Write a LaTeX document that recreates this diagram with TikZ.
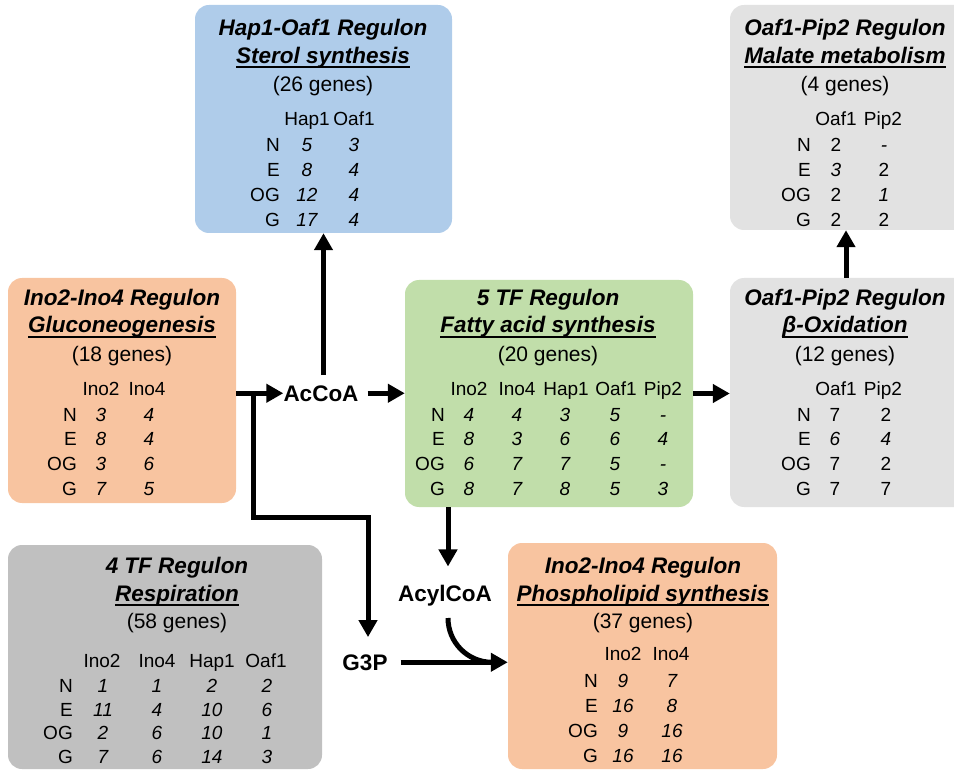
\documentclass[tikz,border=0pt]{standalone}
\usepackage{fontspec}
\setmainfont{Liberation Sans}
\usetikzlibrary{arrows.meta}
\definecolor{cblue}{RGB}{175,204,234}
\definecolor{cpeach}{RGB}{248,196,160}
\definecolor{cgreen}{RGB}{193,222,170}
\definecolor{clgray}{RGB}{226,226,226}
\definecolor{cgray}{RGB}{192,192,192}
\newcommand\ulbox[1]{\setbox0\hbox{#1}\rlap{\rule[-5pt]{\wd0}{2.3pt}}\box0}
\newcommand\uprm[1]{{\upshape #1}}
\tikzset{
 box/.style={rounded corners=14pt, inner sep=0pt, draw=none},
 ttl/.style={font=\fontsize{22.5}{27}\selectfont\bfseries\itshape, anchor=base, inner sep=0pt},
 gen/.style={font=\fontsize{21}{25}\selectfont, anchor=base, inner sep=0pt},
 hd/.style={font=\fontsize{19}{23}\selectfont, anchor=base, inner sep=0pt},
 lab/.style={hd, anchor=base east},
 val/.style={font=\fontsize{19}{23}\selectfont\itshape, anchor=base, inner sep=0pt},
 met/.style={font=\fontsize{22.5}{27}\selectfont\bfseries, anchor=base, inner sep=0pt},
 arr/.style={line width=5pt, line join=miter, -{Triangle[length=17pt,width=18pt]}},
 lin/.style={line width=5pt}
}
\begin{document}
\begin{tikzpicture}[x=1pt,y=-1pt]
\useasboundingbox (0,0) rectangle (954,770);

% ---------- boxes ----------
\node[box,fill=cblue,minimum width=257pt,minimum height=228pt] (hap) at (323.5,119) {};
\node[box,fill=clgray,minimum width=238pt,minimum height=225pt] (mal) at (849,117.5) {};
\node[box,fill=cpeach,minimum width=228pt,minimum height=225pt] (glu) at (122,390.5) {};
\node[box,fill=cgreen,minimum width=288pt,minimum height=227pt] (fas) at (549,393.5) {};
\node[box,fill=clgray,minimum width=238pt,minimum height=229pt] (beta) at (849,392.5) {};
\node[box,fill=cgray,minimum width=314pt,minimum height=224pt] (resp) at (165,657) {};
\node[box,fill=cpeach,minimum width=269pt,minimum height=226pt] (phos) at (642.5,656) {};

% ---------- Hap1-Oaf1 ----------
\node[ttl] (hapT1) at (323,36) {Hap1-Oaf1 Regulon};
\node[ttl] (hapT2) at (323,63.5) {\ulbox{Sterol synthesis}};
\node[gen] (hapG) at (323,92) {(26 genes)};
\node[hd] (hapH1) at (307,126) {Hap1};
\node[hd] (hapH2) at (354,126) {Oaf1};
\foreach \rl/\ra/\rb [count=\i] in {N/5/3, E/8/4, OG/12/4, G/17/4} {
  \node[lab] (hapL\i) at (280,{152+24.7*(\i-1)}) {\rl};
  \node[val] (hapA\i) at (307,{152+24.7*(\i-1)}) {\ra};
  \node[val] (hapB\i) at (354,{152+24.7*(\i-1)}) {\rb};
}

% ---------- Oaf1-Pip2 Malate ----------
\node[ttl] (malT1) at (845,36) {Oaf1-Pip2 Regulon};
\node[ttl] (malT2) at (845,63.5) {\ulbox{Malate metabolism}};
\node[gen] (malG) at (845,92) {(4 genes)};
\node[hd] (malH1) at (836,126) {Oaf1};
\node[hd] (malH2) at (883,126) {Pip2};
\foreach \rl/\ra/\rb [count=\i] in {N/\uprm{2}/-, E/3/\uprm{2}, OG/\uprm{2}/1, G/\uprm{2}/\uprm{2}} {
  \node[lab] (malL\i) at (811,{152+24.7*(\i-1)}) {\rl};
  \node[val] (malA\i) at (836,{152+24.7*(\i-1)}) {\ra};
  \node[val] (malB\i) at (884,{152+24.7*(\i-1)}) {\rb};
}

% ---------- Ino2-Ino4 Gluconeogenesis ----------
\node[ttl] (gluT1) at (122,306) {Ino2-Ino4 Regulon};
\node[ttl] (gluT2) at (122,333) {\ulbox{Gluconeogenesis}};
\node[gen] (gluG) at (122,361) {(18 genes)};
\node[hd] (gluH1) at (101,395) {Ino2};
\node[hd] (gluH2) at (147,395) {Ino4};
\foreach \rl/\ra/\rb [count=\i] in {N/3/4, E/8/4, OG/3/6, G/7/5} {
  \node[lab] (gluL\i) at (77,{421+24.7*(\i-1)}) {\rl};
  \node[val] (gluA\i) at (101,{421+24.7*(\i-1)}) {\ra};
  \node[val] (gluB\i) at (149,{421+24.7*(\i-1)}) {\rb};
}

% ---------- 5 TF Fatty acid ----------
\node[ttl] (fasT1) at (548,306) {5 TF Regulon};
\node[ttl] (fasT2) at (548,333) {\ulbox{Fatty acid synthesis}};
\node[gen] (fasG) at (548,361) {(20 genes)};
\foreach \h/\x [count=\j] in {Ino2/469, Ino4/517, Hap1/566, Oaf1/616, Pip2/663}
  \node[hd] (fasH\j) at (\x,395) {\h};
\foreach \rl/\ra/\rb/\rc/\rd/\re [count=\i] in {N/4/4/3/5/-, E/8/3/6/6/4, OG/6/7/7/5/-, G/8/7/8/5/3} {
  \node[lab] (fasL\i) at (445,{421+24.7*(\i-1)}) {\rl};
  \node[val] (fasA\i) at (469,{421+24.7*(\i-1)}) {\ra};
  \node[val] (fasB\i) at (517,{421+24.7*(\i-1)}) {\rb};
  \node[val] (fasC\i) at (565,{421+24.7*(\i-1)}) {\rc};
  \node[val] (fasD\i) at (615,{421+24.7*(\i-1)}) {\rd};
  \node[val] (fasE\i) at (663,{421+24.7*(\i-1)}) {\re};
}

% ---------- Oaf1-Pip2 beta-Oxidation ----------
\node[ttl] (betT1) at (845,306) {Oaf1-Pip2 Regulon};
\node[ttl] (betT2) at (845,333) {\ulbox{β-Oxidation}};
\node[gen] (betG) at (845,361) {(12 genes)};
\node[hd] (betH1) at (836,395) {Oaf1};
\node[hd] (betH2) at (883,395) {Pip2};
\foreach \rl/\ra/\rb [count=\i] in {N/\uprm{7}/\uprm{2}, E/6/4, OG/\uprm{7}/\uprm{2}, G/\uprm{7}/\uprm{7}} {
  \node[lab] (betL\i) at (811,{421+24.7*(\i-1)}) {\rl};
  \node[val] (betA\i) at (835,{421+24.7*(\i-1)}) {\ra};
  \node[val] (betB\i) at (886,{421+24.7*(\i-1)}) {\rb};
}

% ---------- 4 TF Respiration ----------
\node[ttl] (resT1) at (177,573) {4 TF Regulon};
\node[ttl] (resT2) at (177,601) {\ulbox{Respiration}};
\node[gen] (resG) at (177,628) {(58 genes)};
\foreach \h/\x [count=\j] in {Ino2/102, Ino4/157, Hap1/212, Oaf1/266}
  \node[hd] (resH\j) at (\x,667) {\h};
\foreach \rl/\ra/\rb/\rc/\rd [count=\i] in {N/1/1/2/2, E/11/4/10/6, OG/2/6/10/1, G/7/6/14/3} {
  \node[lab] (resL\i) at (73,{692.5+23.7*(\i-1)}) {\rl};
  \node[val] (resA\i) at (103,{692.5+23.7*(\i-1)}) {\ra};
  \node[val] (resB\i) at (157,{692.5+23.7*(\i-1)}) {\rb};
  \node[val] (resC\i) at (212,{692.5+23.7*(\i-1)}) {\rc};
  \node[val] (resD\i) at (267,{692.5+23.7*(\i-1)}) {\rd};
}

% ---------- Ino2-Ino4 Phospholipid ----------
\node[ttl] (phoT1) at (643,573) {Ino2-Ino4 Regulon};
\node[ttl] (phoT2) at (643,601) {\ulbox{Phospholipid synthesis}};
\node[gen] (phoG) at (643,628) {(37 genes)};
\node[hd] (phoH1) at (623,660) {Ino2};
\node[hd] (phoH2) at (671,660) {Ino4};
\foreach \rl/\ra/\rb [count=\i] in {N/9/7, E/16/8, OG/9/16, G/16/16} {
  \node[lab] (phoL\i) at (598,{687+25*(\i-1)}) {\rl};
  \node[val] (phoA\i) at (623,{687+25*(\i-1)}) {\ra};
  \node[val] (phoB\i) at (672,{687+25*(\i-1)}) {\rb};
}

% ---------- metabolites ----------
\node[met] (acc) at (321,401) {AcCoA};
\node[met] (acyl) at (445,601) {AcylCoA};
\node[met] (g3p) at (365,670) {G3P};

% ---------- connectors ----------
\coordinate (accTop) at ([yshift=10pt]acc.north);
\coordinate (accRight) at ([xshift=9pt]acc.east);
\coordinate (br) at (253,0);
\coordinate (bend) at (368,517);
\coordinate (g3pTop) at ([yshift=17pt]g3p.north);
\coordinate (g3pRight) at ([xshift=13pt]g3p.east);
\coordinate (fa) at (448,0);
\coordinate (acylTop) at ([yshift=18pt]acyl.north);
\coordinate (acylBot) at ([yshift=-17pt]acyl.base);
\coordinate (cj) at (492,0);
\coordinate (bm) at (846,0);

\draw[arr] (glu.east |- acc.west) -- (acc.west);
\draw[arr] (accTop -| hap.south) -- (hap.south);
\draw[arr] (accRight) -- (fas.west |- accRight);
\draw[arr] (fas.east) -- (beta.west |- fas.east);
\draw[arr] (beta.north -| bm) -- (mal.south -| bm);
\draw[arr] (br |- acc.west) -- (br |- bend) -- (bend) -- (bend |- g3pTop);
\draw[arr] (fas.south -| fa) -- (acylTop -| fa);
\draw[arr] (g3pRight) -- (phos.west |- g3pRight);
\draw[lin] (acylBot -| fa) to[out=-90,in=180] (cj |- g3pRight);
\end{tikzpicture}
\end{document}
